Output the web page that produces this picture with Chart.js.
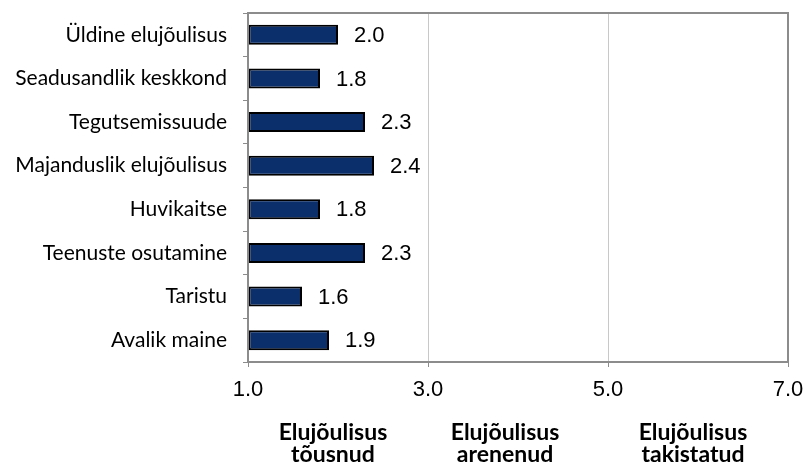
<!DOCTYPE html>
<html>
<head>
<meta charset="utf-8">
<script src="https://cdn.jsdelivr.net/npm/chart.js@4"></script>
<style>
  html, body { margin: 0; padding: 0; background: #fff; }
  #wrap { width: 806px; height: 466px; }
</style>
</head>
<body>
<div id="wrap"><canvas id="chart" width="806" height="466"></canvas></div>
<script>
const categories = [
  "Üldine elujõulisus",
  "Seadusandlik keskkond",
  "Tegutsemissuude",
  "Majanduslik elujõulisus",
  "Huvikaitse",
  "Teenuste osutamine",
  "Taristu",
  "Avalik maine",
];
const scores = [2.0, 1.8, 2.3, 2.4, 1.8, 2.3, 1.6, 1.9];
const zoneLabels = [
  ["Elujõulisus", "tõusnud"],
  ["Elujõulisus", "arenenud"],
  ["Elujõulisus", "takistatud"],
];
const zoneCenters = [1.944, 3.856, 5.944];

const axisGray = "#8c8c8c";
const arial = "'Liberation Sans', Arial, sans-serif";

const valueLabels = {
  id: "valueLabels",
  afterDatasetsDraw(chart) {
    const ctx = chart.ctx;
    const meta = chart.getDatasetMeta(0);
    ctx.save();
    ctx.font = "22px " + arial;
    ctx.fillStyle = "#000";
    ctx.textAlign = "left";
    ctx.textBaseline = "middle";
    meta.data.forEach((bar, i) => {
      ctx.fillText(scores[i].toFixed(1), bar.x + 16, bar.y + 1);
    });
    ctx.restore();
  },
};

const frame = {
  id: "frame",
  afterDraw(chart) {
    const a = chart.chartArea;
    const ctx = chart.ctx;
    ctx.save();
    ctx.strokeStyle = axisGray;
    ctx.lineWidth = 2;
    ctx.strokeRect(a.left, a.top, a.right - a.left, a.bottom - a.top);
    ctx.restore();
  },
};

const zones = {
  id: "zones",
  afterDraw(chart) {
    const ctx = chart.ctx;
    const x = chart.scales.x;
    ctx.save();
    ctx.font = "bold 23px Lato, 'Open Sans', sans-serif";
    ctx.fillStyle = "#000";
    ctx.textAlign = "center";
    ctx.textBaseline = "alphabetic";
    zoneLabels.forEach((lines, i) => {
      const px = x.getPixelForValue(zoneCenters[i]);
      lines.forEach((t, j) => ctx.fillText(t, px, 440 + j * 22));
    });
    ctx.restore();
  },
};

new Chart(document.getElementById("chart"), {
  type: "bar",
  data: {
    labels: categories,
    datasets: [
      {
        data: scores,
        base: 1,
        backgroundColor: "#0b2f6b",
        borderColor: "#000",
        borderWidth: 2,
        borderSkipped: false,
        barPercentage: 0.46,
        categoryPercentage: 1,
      },
    ],
  },
  options: {
    indexAxis: "y",
    responsive: false,
    animation: false,
    layout: { padding: { top: 13, right: 18, bottom: 0, left: 0 } },
    plugins: {
      legend: { display: false },
      tooltip: { enabled: false },
    },
    scales: {
      x: {
        min: 1,
        max: 7,
        ticks: {
          stepSize: 2,
          color: "#000",
          padding: 10,
          font: { family: arial, size: 22 },
          callback: (v) => Number(v).toFixed(1),
          maxRotation: 0,
        },
        grid: { color: "#c8c8c8", tickColor: axisGray, tickLength: 5 },
        border: { color: axisGray, width: 2 },
        afterFit: (s) => {
          s.height = 104;
          s.paddingLeft = 0;
          s.paddingRight = 0;
        },
      },
      y: {
        ticks: {
          color: "#000",
          padding: 16,
          font: { family: "Lato, 'Open Sans', sans-serif", size: 21 },
        },
        grid: { drawOnChartArea: false, color: axisGray, tickLength: 5, offset: true },
        border: { color: axisGray, width: 2 },
        afterFit: (s) => {
          s.width = 248;
          s.paddingTop = 0;
          s.paddingBottom = 0;
        },
      },
    },
  },
  plugins: [valueLabels, frame, zones],
});
</script>
</body>
</html>
